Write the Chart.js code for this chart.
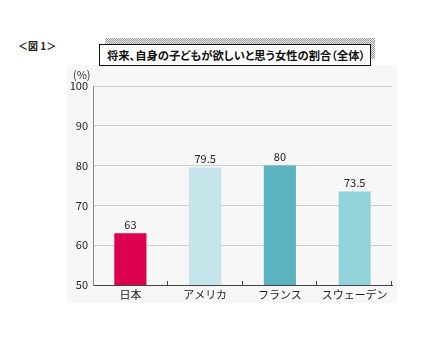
<!DOCTYPE html>
<html>
<head>
<meta charset="utf-8">
<script src="https://cdn.jsdelivr.net/npm/chart.js@4/dist/chart.umd.min.js"></script>
<style>
  body { margin: 0; background: #fff; font-family: "Noto Sans CJK JP", sans-serif; }
  #page { position: relative; width: 442px; height: 337px; overflow: hidden; }
  #fig { position: absolute; left: 18px; top: 38px; font-size: 10px; font-weight: bold; color: #222;
    font-feature-settings: "palt"; }
  #shadow { position: absolute; left: 105px; top: 38px; width: 270px; height: 21px;
    background: repeating-conic-gradient(#999 0% 25%, #ececec 0% 50%) 0 0 / 2px 2px; }
  #title { position: absolute; left: 99px; top: 44px; width: 263px; height: 20px; background: #fff;
    border: 1px solid #111; font-size: 11.3px; font-weight: bold; color: #111; line-height: 20px;
    padding-left: 7px; box-sizing: content-box; white-space: nowrap; font-feature-settings: "palt"; }
  #box { position: absolute; left: 67px; top: 65px; width: 330px; height: 238px; background: #f7f7f7; }
  #unit { position: absolute; left: 73px; top: 66px; font-size: 11px; color: #333; }
</style>
</head>
<body>
<div id="page">
  <div id="fig">＜図 1＞</div>
  <div id="box"><canvas id="chart" width="330" height="238"></canvas></div>
  <div id="unit">(%)</div>
  <div id="shadow"></div>
  <div id="title">将来、自身の子どもが欲しいと思う女性の割合（全体）</div>
</div>
<script>
const categories = ['日本', 'アメリカ', 'フランス', 'スウェーデン'];
const values = [63, 79.5, 80, 73.5];
const barColors = ['#dc004e', '#c5e5ea', '#5bb3bf', '#92d2da'];
const yTicks = [50, 60, 70, 80, 90, 100];

// value labels above each bar
const valueLabels = {
    id: 'valueLabels',
    afterDatasetsDraw(chart) {
        const ctx = chart.ctx;
        const meta = chart.getDatasetMeta(0);
        ctx.save();
        ctx.font = '11px "Noto Sans CJK JP"';
        ctx.fillStyle = '#222';
        ctx.textAlign = 'center';
        ctx.textBaseline = 'bottom';
        meta.data.forEach((bar, i) => {
            ctx.fillText(String(values[i]), bar.x, bar.y - 3);
        });
        ctx.restore();
    }
};

// small inward tick marks on the category boundaries
const innerTicks = {
    id: 'innerTicks',
    afterDraw(chart) {
        const x = chart.scales.x;
        const ctx = chart.ctx;
        ctx.save();
        ctx.strokeStyle = '#444';
        ctx.lineWidth = 1;
        for (let i = 1; i <= categories.length; i++) {
            const px = i < categories.length
                ? (x.getPixelForValue(i - 1) + x.getPixelForValue(i)) / 2
                : x.right;
            const p = Math.round(px) - 0.5;
            ctx.beginPath();
            ctx.moveTo(p, x.top - 4);
            ctx.lineTo(p, x.top);
            ctx.stroke();
        }
        ctx.restore();
    }
};

const ctx = document.getElementById('chart').getContext('2d');
new Chart(ctx, {
    type: 'bar',
    data: {
        labels: categories,
        datasets: [{
            data: values,
            backgroundColor: barColors,
            barPercentage: 0.43,
            categoryPercentage: 1
        }]
    },
    options: {
        responsive: false,
        animation: false,
        layout: { padding: { top: 21, right: 5, left: 0, bottom: 0 } },
        plugins: { legend: { display: false }, tooltip: { enabled: false } },
        scales: {
            x: {
                grid: { display: false, drawTicks: false },
                border: { color: '#444', width: 1 },
                ticks: { color: '#222', font: { family: 'Noto Sans CJK JP', size: 11 }, padding: 3 },
                afterFit(s) { s.height = 18; }
            },
            y: {
                min: 50,
                max: 100,
                afterBuildTicks(s) { s.ticks = yTicks.map(v => ({ value: v })); },
                grid: { color: '#cdcdcd', drawTicks: false },
                border: { color: '#888', width: 1 },
                ticks: { color: '#222', font: { family: 'Noto Sans CJK JP', size: 11 }, padding: 5 },
                afterFit(s) { s.width = 26; }
            }
        }
    },
    plugins: [valueLabels, innerTicks]
});
</script>
</body>
</html>
